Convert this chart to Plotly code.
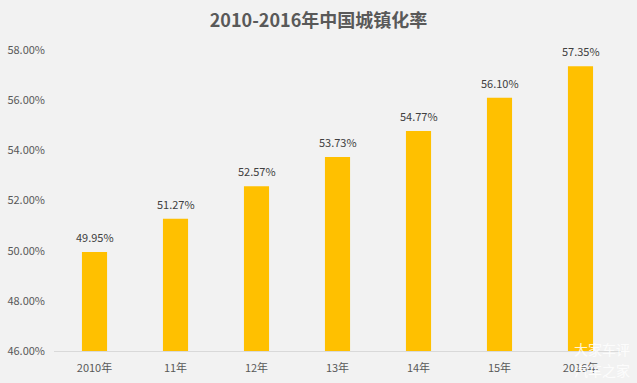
import plotly.graph_objects as go

categories = ["2010年", "11年", "12年", "13年", "14年", "15年", "2016年"]
values = [49.95, 51.27, 52.57, 53.73, 54.77, 56.10, 57.35]
tick_vals = [46, 48, 50, 52, 54, 56, 58]
tick_text = ["46.00%", "48.00%", "50.00%", "52.00%", "54.00%", "56.00%", "58.00%"]
title = "2010-2016年中国城镇化率"

font_family = "Noto Sans CJK SC, Microsoft YaHei, sans-serif"

fig = go.Figure()
fig.add_trace(go.Bar(
    x=categories,
    y=values,
    marker=dict(color="#FFC000", line=dict(width=0)),
    width=0.31,
    hoverinfo="skip",
))

for c, v in zip(categories, values):
    fig.add_annotation(x=c, y=v, text=f"{v:.2f}%", showarrow=False, yanchor="bottom",
                       yshift=5, font=dict(size=11, color="#404040", family=font_family))

fig.update_layout(
    width=637, height=383,
    paper_bgcolor="#F2F2F2",
    plot_bgcolor="#F2F2F2",
    margin=dict(l=54, r=16, t=50, b=32),
    showlegend=False,
    title=dict(text="<b>" + title + "</b>", x=0.5, xanchor="center", y=0.945, yanchor="middle",
               font=dict(size=18, color="#595959", family=font_family)),
    font=dict(family=font_family, color="#595959", size=11),
)
fig.update_xaxes(
    showline=True, linecolor="#D9D9D9", linewidth=1, automargin=False,
    showgrid=False, ticks="", ticklabelstandoff=7,
    tickfont=dict(size=11, color="#595959", family=font_family),
)
fig.update_yaxes(
    range=[46, 58], tickvals=tick_vals, ticktext=tick_text, automargin=False,
    showgrid=False, zeroline=False, showline=False, ticks="", ticklabelstandoff=8,
    tickfont=dict(size=11, color="#595959", family=font_family),
)
fig.add_annotation(text="大家车评", x=1.019, y=0.007, xref="paper", yref="paper", yanchor="middle",
                   xanchor="right", showarrow=False, font=dict(size=14, color="rgba(255,255,255,0.85)", family=font_family))
fig.add_annotation(text="汽车之家", x=1.019, y=-0.063, xref="paper", yref="paper", yanchor="middle",
                   xanchor="right", showarrow=False, font=dict(size=14, color="rgba(255,255,255,0.85)", family=font_family))

fig.write_html("out.html", config={"displayModeBar": False},
               post_script="document.body.style.margin='0';")
